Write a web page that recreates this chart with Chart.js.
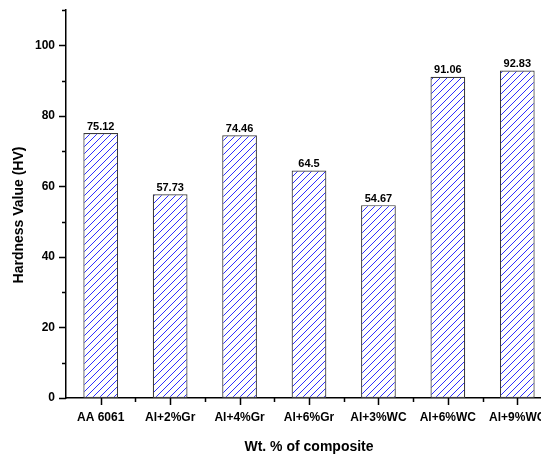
<!DOCTYPE html>
<html>
<head>
<meta charset="utf-8">
<script src="https://cdn.jsdelivr.net/npm/chart.js@4.4.1/dist/chart.umd.min.js"></script>
<style>
  html, body { margin: 0; padding: 0; background: #fff; overflow: hidden; }
  #wrap { width: 541px; height: 454px; overflow: hidden; }
</style>
</head>
<body>
<div id="wrap"><canvas id="hardness" width="560" height="454"></canvas></div>
<script>
const samples = ["AA 6061", "Al+2%Gr", "Al+4%Gr", "Al+6%Gr", "Al+3%WC", "Al+6%WC", "Al+9%WC"];
const hardness = [75.12, 57.73, 74.46, 64.5, 54.67, 91.06, 92.83];
const valueLabels = ["75.12", "57.73", "74.46", "64.5", "54.67", "91.06", "92.83"];
const yTicks = [0, 10, 20, 30, 40, 50, 60, 70, 80, 90, 100, 110];

const FONT = "'Liberation Sans', Arial, sans-serif";

// diagonal hatch fill for the bars
function makeHatch() {
  const s = 7;
  const c = document.createElement("canvas");
  c.width = s;
  c.height = s;
  const g = c.getContext("2d");
  g.fillStyle = "#fff";
  g.fillRect(0, 0, s, s);
  g.strokeStyle = "#2e2eff";
  g.lineWidth = 1;
  g.beginPath();
  g.moveTo(-1, s + 1); g.lineTo(s + 1, -1);
  g.moveTo(-1, 1); g.lineTo(1, -1);
  g.moveTo(s - 1, s + 1); g.lineTo(s + 1, s - 1);
  g.stroke();
  return g.createPattern(c, "repeat");
}

const ctx = document.getElementById("hardness").getContext("2d");

// tick marks: long at labelled values / category centres, short in between
const tickMarks = {
  id: "tickMarks",
  afterDraw(chart) {
    const { ctx, chartArea, scales } = chart;
    ctx.save();
    ctx.strokeStyle = "#000";
    ctx.lineWidth = 1.5;
    ctx.beginPath();
    yTicks.forEach((v) => {
      const y = Math.round(scales.y.getPixelForValue(v)) + 0.5;
      const len = v % 20 === 0 ? 7 : 4;
      ctx.moveTo(chartArea.left, y);
      ctx.lineTo(chartArea.left - len, y);
    });
    const step = scales.x.getPixelForValue(1) - scales.x.getPixelForValue(0);
    samples.forEach((_, i) => {
      const cx = Math.round(scales.x.getPixelForValue(i)) + 0.5;
      ctx.moveTo(cx, chartArea.bottom);
      ctx.lineTo(cx, chartArea.bottom + 7);
      const bx = Math.round(scales.x.getPixelForValue(i) + step / 2) + 0.5;
      ctx.moveTo(bx, chartArea.bottom);
      ctx.lineTo(bx, chartArea.bottom + 4);
    });
    ctx.stroke();

    // vertical axis title, sitting a little below the middle of the axis
    ctx.fillStyle = "#000";
    ctx.font = "bold 14px " + FONT;
    ctx.textAlign = "center";
    ctx.textBaseline = "middle";
    ctx.translate(19, (chartArea.top + chartArea.bottom) / 2 + 11);
    ctx.rotate(-Math.PI / 2);
    ctx.fillText("Hardness Value (HV)", 0, 0);
    ctx.restore();
  }
};

// value printed above each bar
const barValues = {
  id: "barValues",
  afterDatasetsDraw(chart) {
    const { ctx } = chart;
    const meta = chart.getDatasetMeta(0);
    ctx.save();
    ctx.fillStyle = "#000";
    ctx.font = "bold 11px " + FONT;
    ctx.textAlign = "center";
    ctx.textBaseline = "bottom";
    meta.data.forEach((bar, i) => {
      ctx.fillText(valueLabels[i], bar.x, bar.y - 1);
    });
    ctx.restore();
  }
};

new Chart(ctx, {
  type: "bar",
  data: {
    labels: samples,
    datasets: [{
      data: hardness,
      backgroundColor: makeHatch(),
      borderColor: "#3a3a3a",
      borderWidth: 1.2,
      borderSkipped: false,
      barPercentage: 0.5,
      categoryPercentage: 1
    }]
  },
  options: {
    responsive: false,
    animation: false,
    layout: { padding: { top: 10, right: 8, left: 0, bottom: 0 } },
    plugins: {
      legend: { display: false },
      tooltip: { enabled: false }
    },
    scales: {
      x: {
        grid: { display: false, drawTicks: false },
        border: { display: true, color: "#000", width: 1.5 },
        ticks: {
          color: "#000",
          font: { family: FONT, size: 12, weight: "bold" },
          padding: 12,
          maxRotation: 0,
          autoSkip: false
        },
        title: {
          display: true,
          text: "Wt. % of composite",
          color: "#000",
          font: { family: FONT, size: 14, weight: "bold", lineHeight: 1 },
          padding: { top: 0, bottom: 0 }
        },
        afterFit(scale) {
          scale.height = 56;
          scale.paddingLeft = 0;
          scale.paddingRight = 0;
        }
      },
      y: {
        min: 0,
        max: 110,
        grid: { display: false, drawTicks: false },
        border: { display: true, color: "#000", width: 1.5 },
        afterBuildTicks(scale) { scale.ticks = yTicks.map((v) => ({ value: v })); },
        ticks: {
          color: "#000",
          font: { family: FONT, size: 12, weight: "bold" },
          padding: 11,
          callback: (v) => (v % 20 === 0 ? String(v) : "")
        },
        afterFit(scale) {
          scale.width = 66;
          scale.paddingTop = 0;
          scale.paddingBottom = 0;
        }
      }
    }
  },
  plugins: [tickMarks, barValues]
});
</script>
</body>
</html>
